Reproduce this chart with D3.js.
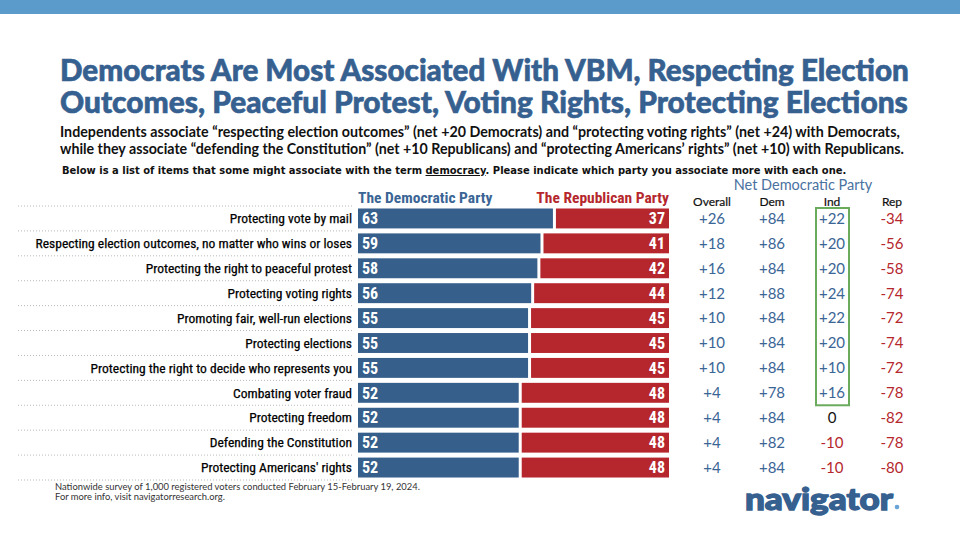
<!DOCTYPE html>
<html><head><meta charset="utf-8">
<script src="https://cdn.jsdelivr.net/npm/d3@7"></script>
<style>
html,body{margin:0;padding:0;background:#fff;}
svg{display:block;}
</style></head>
<body>
<svg id="chart" width="960" height="540"></svg>
<script>
// ---- data ----
const categories = [
  "Protecting vote by mail",
  "Respecting election outcomes, no matter who wins or loses",
  "Protecting the right to peaceful protest",
  "Protecting voting rights",
  "Promoting fair, well-run elections",
  "Protecting elections",
  "Protecting the right to decide who represents you",
  "Combating voter fraud",
  "Protecting freedom",
  "Defending the Constitution",
  "Protecting Americans' rights"
];
const demValues = [63, 59, 58, 56, 55, 55, 55, 52, 52, 52, 52];
const repValues = [37, 41, 42, 44, 45, 45, 45, 48, 48, 48, 48];
const netColumns = ["Overall", "Dem", "Ind", "Rep"];
const netOverall = [26, 18, 16, 12, 10, 10, 10, 4, 4, 4, 4];
const netDem = [84, 86, 84, 88, 84, 84, 84, 78, 84, 82, 84];
const netInd = [22, 20, 20, 24, 22, 20, 10, 16, 0, -10, -10];
const netRep = [-34, -56, -58, -74, -72, -74, -72, -78, -82, -78, -80];
const highlightedIndRows = 8;

const titleLines = [
  "Democrats Are Most Associated With VBM, Respecting Election",
  "Outcomes, Peaceful Protest, Voting Rights, Protecting Elections"
];
const subtitleLines = [
  "Independents associate \u201crespecting election outcomes\u201d (net +20 Democrats) and \u201cprotecting voting rights\u201d (net +24) with Democrats,",
  "while they associate \u201cdefending the Constitution\u201d (net +10 Republicans) and \u201cprotecting Americans\u2019 rights\u201d (net +10) with Republicans."
];
const footnotes = [
  "Nationwide survey of 1,000 registered voters conducted February 15-February 19, 2024.",
  "For more info, visit navigatorresearch.org."
];

// ---- styles ----
const BLUE = "#365f8b", RED = "#b5272d", TXTBLUE = "#3a6595";
const sansBold = "Lato, 'Open Sans', sans-serif";
const narrow = "'Liberation Sans Narrow', 'Roboto Condensed', 'DejaVu Sans Condensed', sans-serif";

const svg = d3.select("#chart");

function fit(sel, width, startSize) {
  let size = startSize;
  sel.style("font-size", size + "px");
  const len = sel.node().getComputedTextLength();
  size = size * width / len;
  sel.style("font-size", size + "px");
  return size;
}

// top band
svg.append("rect").attr("x", 0).attr("y", 0).attr("width", 960).attr("height", 14).attr("fill", "#5b9bcc");

// title
titleLines.forEach((t, i) => {
  const s = svg.append("text").attr("x", 60).attr("y", 81 + i * 32)
    .attr("fill", "#35608f").attr("stroke", "#35608f").attr("stroke-width", 0.6)
    .style("font-family", sansBold).style("font-weight", 900).text(t);
  fit(s, i === 0 ? 849 : 848, 28);
});

// subtitle
subtitleLines.forEach((t, i) => {
  const s = svg.append("text").attr("x", 60).attr("y", 137 + i * 17)
    .attr("fill", "#111").style("font-family", sansBold).style("font-weight", 700).text(t);
  fit(s, i === 0 ? 840 : 845, 15);
});

// question line
{
  const q = svg.append("text").attr("x", 62).attr("y", 174).attr("fill", "#111")
    .style("font-family", "'DejaVu Sans', sans-serif").style("font-weight", "bold");
  q.append("tspan").text("Below is a list of items that some might associate with the term ");
  q.append("tspan").style("text-decoration", "underline").text("democracy");
  q.append("tspan").text(". Please indicate which party you associate more with each one.");
  fit(q, 785, 11);
}

// scales
const y = d3.scaleBand().domain(categories).range([206, 480]).paddingInner(0.2).paddingOuter(0.1);
const x = d3.scaleLinear().domain([0, 100]).range([358, 669]);
const xc = d3.scalePoint().domain(netColumns).range([712, 892]);
const rowTop = i => 206 + i * ((480 - 206) / categories.length);

// dotted separators
const seps = d3.range(categories.length + 1);
svg.append("g").selectAll("line").data(seps).join("line")
  .attr("x1", 18).attr("x2", 352)
  .attr("y1", i => rowTop(i)).attr("y2", i => rowTop(i))
  .attr("stroke", "#b9b9b9").attr("stroke-width", 1).attr("stroke-dasharray", "1,2");

// row labels
svg.append("g").selectAll("text").data(categories).join("text")
  .attr("x", 352).attr("y", d => y(d) + y.bandwidth() / 2).attr("dy", "0.35em")
  .attr("text-anchor", "end").attr("fill", "#000")
  .style("font-family", narrow).style("font-size", "13.5px").style("stroke", "#000").style("stroke-width", "0.25px")
  .text(d => d);

// bars
const rows = categories.map((c, i) => ({ c, dem: demValues[i], rep: repValues[i] }));
svg.append("g").selectAll("rect").data(rows).join("rect")
  .attr("x", x(0)).attr("y", d => y(d.c)).attr("height", y.bandwidth())
  .attr("width", d => x(d.dem) - x(0) - 1).attr("fill", BLUE);
svg.append("g").selectAll("rect").data(rows).join("rect")
  .attr("x", d => x(d.dem) + 2).attr("y", d => y(d.c)).attr("height", y.bandwidth())
  .attr("width", d => x(100) - x(d.dem) - 2).attr("fill", RED);

// bar values
svg.append("g").selectAll("text").data(rows).join("text")
  .attr("x", x(0) + 4).attr("y", d => y(d.c) + y.bandwidth() / 2).attr("dy", "0.36em")
  .attr("fill", "#fff").style("font-family", narrow).style("font-weight", "bold").style("font-size", "16px")
  .text(d => d.dem);
svg.append("g").selectAll("text").data(rows).join("text")
  .attr("x", x(100) - 4).attr("y", d => y(d.c) + y.bandwidth() / 2).attr("dy", "0.36em")
  .attr("text-anchor", "end")
  .attr("fill", "#fff").style("font-family", narrow).style("font-weight", "bold").style("font-size", "16px")
  .text(d => d.rep);

// party headers
svg.append("text").attr("x", x(0)).attr("y", 203).attr("fill", TXTBLUE)
  .style("font-family", narrow).style("font-weight", "bold").style("font-size", "15.5px").text("The Democratic Party");
svg.append("text").attr("x", x(100)).attr("y", 203).attr("text-anchor", "end").attr("fill", RED)
  .style("font-family", narrow).style("font-weight", "bold").style("font-size", "15.5px").text("The Republican Party");

// net header
svg.append("text").attr("x", 803).attr("y", 190).attr("text-anchor", "middle").attr("fill", "#4a72a0")
  .style("font-family", sansBold).style("font-size", "14.5px").text("Net Democratic Party");
svg.append("g").selectAll("text").data(netColumns).join("text")
  .attr("x", d => xc(d)).attr("y", 206).attr("text-anchor", "middle").attr("fill", "#111")
  .attr("stroke", "#111").attr("stroke-width", 0.2)
  .style("font-family", sansBold).style("font-size", "12px").text(d => d);

// net values
const netSeries = [netOverall, netDem, netInd, netRep];
const fmt = v => v > 0 ? "+" + v : (v < 0 ? "-" + Math.abs(v) : "0");
netColumns.forEach((col, j) => {
  svg.append("g").selectAll("text").data(netSeries[j]).join("text")
    .attr("x", xc(col)).attr("y", (v, i) => y(categories[i]) + y.bandwidth() / 2).attr("dy", "0.36em")
    .attr("text-anchor", "middle")
    .attr("fill", v => v > 0 ? "#3a6595" : (v < 0 ? "#b5272d" : "#111"))
    .style("font-family", sansBold).style("font-size", "15px")
    .text(fmt);
});

// green highlight box
svg.append("rect")
  .attr("x", xc("Ind") - 16).attr("y", rowTop(0) + 2)
  .attr("width", 33).attr("height", rowTop(highlightedIndRows) - rowTop(0) - 2)
  .attr("fill", "none").attr("stroke", "#6aab5c").attr("stroke-width", 2);

// footnotes
{
  const f2 = svg.append("text").attr("x", 55).attr("y", 500).attr("fill", "#333")
    .style("font-family", sansBold).text(footnotes[1]);
  const fs = fit(f2, 170, 10);
  svg.append("text").attr("x", 55).attr("y", 490).attr("fill", "#333")
    .style("font-family", sansBold).style("font-size", fs + "px").text(footnotes[0]);
}

// logo
{
  const g = svg.append("g");
  const logo = g.append("text").attr("x", 0).attr("y", 0).attr("fill", "#35608f")
    .attr("stroke", "#35608f").attr("stroke-width", 1.2)
    .style("font-family", sansBold).style("font-weight", 900).style("font-size", "28px")
    .text("navigator");
  const len = logo.node().getComputedTextLength();
  g.attr("transform", `translate(745,510) scale(${148 / len},1.05)`);
  svg.append("circle").attr("cx", 897).attr("cy", 507).attr("r", 2.3).attr("fill", "#6aa3d5");
}
</script>
</body></html>
